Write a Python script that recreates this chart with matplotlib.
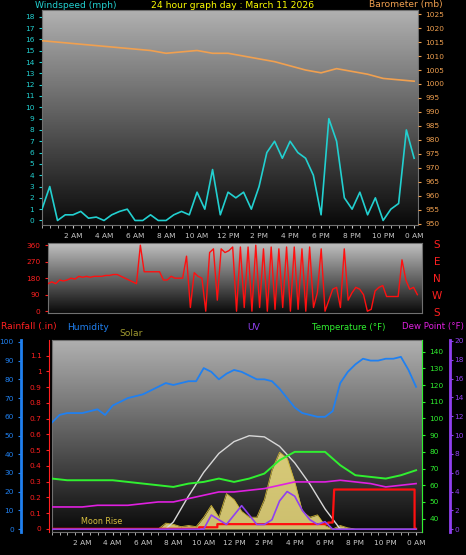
import matplotlib
matplotlib.use('Agg')
import matplotlib.pyplot as plt
import numpy as np

# ---- data ----
hours_half = np.arange(49) * 0.5
hours_full = np.arange(25) * 1.0
hours_qtr = np.arange(97) * 0.25

wind_mph = [1, 3, 0, 0.5, 0.5, 0.8, 0.2, 0.3, 0, 0.5, 0.8, 1, 0, 0, 0.5, 0, 0,
            0.5, 0.8, 0.5, 2.5, 1, 4.5, 0.5, 2.5, 2, 2.5, 1, 3, 6, 7, 5.5, 7,
            6, 5.5, 4, 0.5, 9, 7, 2, 1, 2.5, 0.5, 2, 0, 1, 1.5, 8, 5.5]
baro_mb = [1015.5, 1015, 1014.5, 1014, 1013.5, 1013, 1012.5, 1012, 1011,
           1011.5, 1012, 1011, 1011, 1010, 1009, 1008, 1006.5, 1005, 1004,
           1005.5, 1004.5, 1003.5, 1002, 1001.5, 1001]
wind_dir = [150, 160, 150, 170, 165, 170, 180, 175, 190, 185, 190, 185, 190,
            190, 190, 195, 195, 200, 200, 190, 180, 170, 160, 150, 360,
            215, 215, 215, 215, 215, 170, 170, 190, 180, 180, 180, 300, 20,
            210, 190, 180,
            0, 320, 340, 60, 340, 320, 330, 350, 0, 350, 20, 350, 0, 360, 20,
            340, 0, 350, 10, 340, 20, 350, 0, 350, 10, 340, 0, 350, 20, 100,
            340, 0,
            60, 120, 130, 20, 340, 60, 100, 130, 120, 90, 0, 10, 110, 130,
            140, 80, 80, 80, 80, 280, 170, 120, 130, 90]
humidity = [57, 61, 62, 62, 62, 63, 64, 61, 66, 68, 70, 71, 72, 74, 76, 78,
            77, 78, 79, 79, 86, 84, 80, 83, 85, 84, 82, 80, 80, 79, 75, 70,
            65, 62, 61, 60, 60, 63, 78, 84, 88, 91, 90, 90, 91, 91, 92, 85, 76]
temp_f = [64, 63, 63, 63, 63, 62, 61, 60, 59, 61, 62, 64, 62, 64, 67, 75, 80,
          80, 80, 72, 66, 65, 64, 66, 69]
dew_f = [47, 47, 47, 48, 48, 48, 49, 50, 50, 52, 54, 56, 56, 57, 58, 60, 62,
         62, 62, 63, 62, 61, 59, 60, 61]
uv = [0] * 19 + [0, 0, 1.5, 1, 0.5, 1.5, 2.5, 1.5, 0.5, 0.5, 1, 3, 4, 3.5, 2,
                 1, 0.5, 0.8, 0, 0] + [0] * 10
solar = [0] * 15 + [50, 40, 20, 30, 20, 100, 200, 100, 300, 250, 150, 100,
                    100, 250, 500, 650, 600, 400, 150, 100, 120, 30, 0, 30,
                    10] + [0] * 9
clear_hours = [7.5, 8, 9, 10, 11, 12, 13, 14, 15, 16, 17, 18, 19]
clear_sky = [0, 60, 280, 480, 640, 740, 790, 780, 700, 560, 380, 170, 0]
rain_hours = [0, 9.7, 9.7, 10.9, 10.9, 18.2, 18.2, 18.5, 18.6, 23.9, 23.9, 24]
rain_in = [0, 0, 0.01, 0.01, 0.03, 0.03, 0.04, 0.04, 0.25, 0.25, 0, 0]

tick_hours = list(range(2, 25, 2))
tick_labels = ['2 AM', '4 AM', '6 AM', '8 AM', '10 AM', '12 PM', '2 PM',
               '4 PM', '6 PM', '8 PM', '10 PM', '0 AM']

W, H = 466, 555
fig = plt.figure(figsize=(W / 100, H / 100), dpi=100, facecolor='black')
FS = 5.3
TFS = 6.6


def box(l, t, r, b):
    return [l / W, (H - b) / H, (r - l) / W, (b - t) / H]


def gradient(ax, top='#b0b0b0'):
    cmap = matplotlib.colors.LinearSegmentedColormap.from_list('g', [top, '#0a0a0a'])
    ax.imshow(np.linspace(0, 1, 100).reshape(-1, 1), cmap=cmap, aspect='auto',
              extent=[0, 1, 0, 1], transform=ax.transAxes, zorder=0)
    for s in ax.spines.values():
        s.set_color('#707070')


def xaxis(ax, show=True):
    ax.set_xticks(tick_hours)
    ax.set_xticks(np.arange(0, 24.5, 0.5), minor=True)
    ax.set_xticklabels(tick_labels if show else [])
    ax.tick_params(axis='x', colors='#c8c8c8', labelsize=FS, length=2, which='both')


# ---- top panel: wind + barometer ----
ax1 = fig.add_axes(box(42, 10, 418, 225))
gradient(ax1)
ax1.plot(hours_half, wind_mph, color='#22d0d0', lw=1.2, zorder=3)
ax1.set_xlim(0.07, 24.25)
ax1.set_ylim(-0.4, 18.6)
ax1.set_yticks(range(0, 19))
ax1.tick_params(axis='y', colors='#22d0d0', labelsize=FS, length=2)
xaxis(ax1)
bx = ax1.twinx()
bx.plot(hours_full, baro_mb, color='#f0a050', lw=1.2)
bx.set_ylim(949.5, 1026.5)
bx.set_yticks(range(950, 1026, 5))
bx.tick_params(axis='y', colors='#f0a050', labelsize=FS, length=2)
for s in bx.spines.values():
    s.set_visible(False)
fig.text(35 / W, 1 - 5 / H, 'Windspeed (mph)', color='#22d0d0', fontsize=TFS, va='center')
fig.text(0.5, 1 - 5 / H, '24 hour graph day : March 11 2026', color='#ffff00',
         fontsize=TFS, va='center', ha='center')
fig.text(443 / W, 1 - 5 / H, 'Barometer (mb)', color='#f0a050', fontsize=TFS,
         va='center', ha='right')

# ---- middle panel: wind direction ----
ax2 = fig.add_axes(box(48, 243, 422, 313))
gradient(ax2, '#c0c0c0')
ax2.plot(hours_qtr, wind_dir, color='#ff1010', lw=1.0, zorder=3)
ax2.set_xlim(0, 24.3)
ax2.set_ylim(-10, 372)
ax2.set_yticks([0, 90, 180, 270, 360])
ax2.tick_params(axis='y', colors='#ff2020', labelsize=FS, length=2)
ax2.set_xticks([])
for i, c in enumerate(['S', 'E', 'N', 'W', 'S']):
    fig.text(437 / W, 1 - (245 + i * 17) / H, c, color='#ff2020', fontsize=7.5,
             ha='center', va='center')

# ---- bottom panel ----
ax3 = fig.add_axes(box(52, 340, 422, 532))
gradient(ax3)
ax3.set_xlim(0.38, 24.39)
ax3.set_yticks([])
xaxis(ax3)

sol = ax3.twinx()
sol.fill_between(hours_half, solar, color='#f0e080', alpha=0.85, lw=0)
sol.plot(hours_half, solar, color='#c8b030', lw=0.6)
sol.plot(clear_hours, clear_sky, color='#d8d8d8', lw=1.0)
sol.set_ylim(-25, 1600)
sol.axis('off')

rain = ax3.twinx()
rain.plot(rain_hours, rain_in, color='#ff1010', lw=1.6)
rain.set_ylim(-0.02, 1.2)
rain.yaxis.tick_left()
rain.set_yticks([0, 0.1, 0.2, 0.3, 0.4, 0.5, 0.6, 0.7, 0.8, 0.9, 1, 1.1])
rain.set_yticklabels(['0', '0.1', '0.2', '0.3', '0.4', '0.5', '0.6', '0.7',
                      '0.8', '0.9', '1', '1.1'])
rain.tick_params(axis='y', colors='#ff2020', labelsize=FS, length=2)
rain.spines['left'].set_color('#ff2020')
rain.spines['left'].set_position(('outward', 2))

hum = ax3.twinx()
hum.plot(hours_half, humidity, color='#2080f0', lw=1.3)
hum.set_ylim(-1.5, 101)
hum.yaxis.tick_left()
hum.set_yticks(range(0, 101, 10))
hum.tick_params(axis='y', colors='#2080f0', labelsize=FS, length=2)
hum.spines['left'].set_color('#2080f0')
hum.spines['left'].set_linewidth(2)
hum.spines['left'].set_position(('outward', 22))

tmp = ax3.twinx()
tmp.plot(hours_full, temp_f, color='#30f030', lw=1.4)
tmp.plot(hours_full, dew_f, color='#e020e0', lw=1.2)
tmp.set_ylim(32, 147)
tmp.set_yticks(range(40, 141, 10))
tmp.tick_params(axis='y', colors='#30f030', labelsize=FS, length=2)
tmp.spines['right'].set_color('#30f030')

uvx = ax3.twinx()
uvx.plot(hours_half, uv, color='#9040f0', lw=1.2)
uvx.set_ylim(-0.3, 20.1)
uvx.set_yticks(range(0, 21, 2))
uvx.tick_params(axis='y', colors='#9040f0', labelsize=FS, length=2, pad=1.5)
uvx.spines['right'].set_color('#9040f0')
uvx.spines['right'].set_linewidth(2)
uvx.spines['right'].set_position(('outward', 20))
for a in (sol, rain, hum, tmp, uvx):
    for k in ('top', 'bottom'):
        a.spines[k].set_visible(False)
for a in (rain, hum):
    a.spines['right'].set_visible(False)
for a in (tmp, uvx):
    a.spines['left'].set_visible(False)

sol.text(3.3, 60, 'Moon Rise', color='#d8c040', fontsize=5.8, ha='center', va='center')

ly = 1 - 327 / H
fig.text(1 / W, ly, 'Rainfall (.in)', color='#ff2020', fontsize=TFS, va='center')
fig.text(67 / W, ly, 'Humidity', color='#2080f0', fontsize=TFS, va='center')
fig.text(119 / W, 1 - 333 / H, 'Solar', color='#a09a30', fontsize=TFS, va='center')
fig.text(254 / W, ly, 'UV', color='#9040f0', fontsize=TFS, va='center', ha='center')
fig.text(312 / W, ly, 'Temperature (°F)', color='#30f030', fontsize=6.2, va='center')
fig.text(464 / W, ly, 'Dew Point (°F)', color='#e020e0', fontsize=6.2,
         va='center', ha='right')

fig.savefig('out.png', dpi=100, facecolor='black')
